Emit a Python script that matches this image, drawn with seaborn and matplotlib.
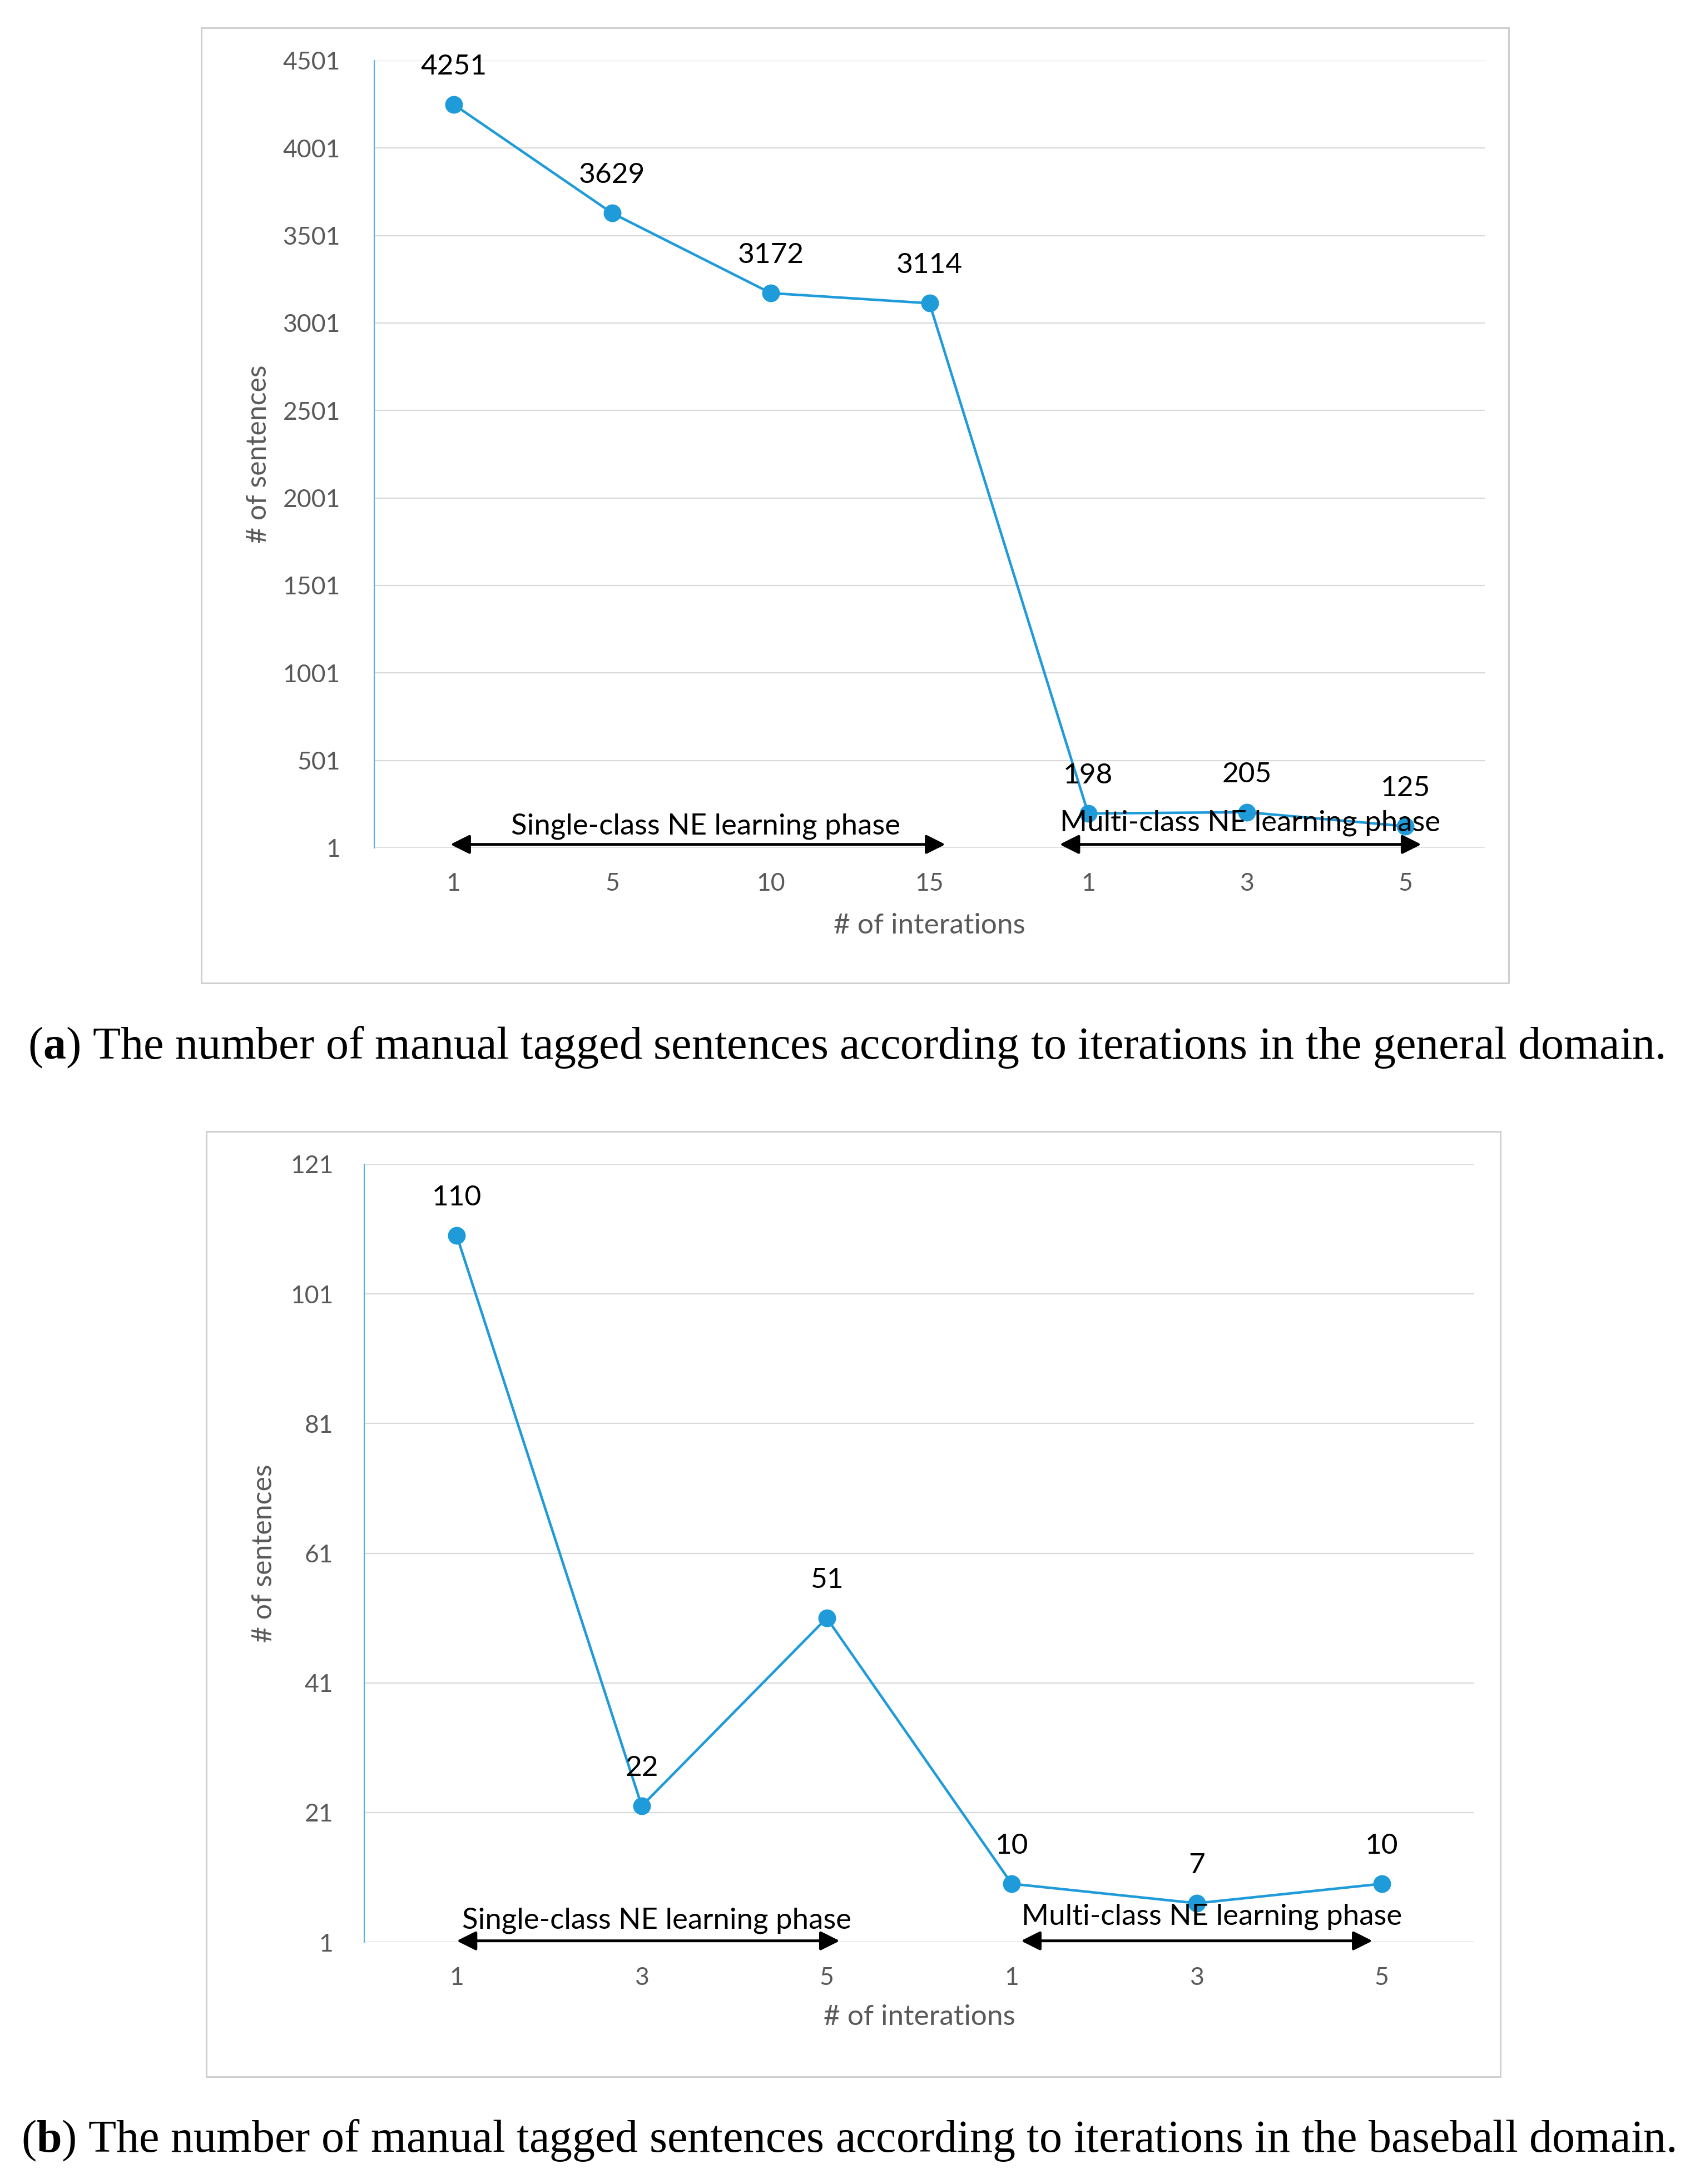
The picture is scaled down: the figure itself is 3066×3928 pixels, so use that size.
import numpy as np
import matplotlib
matplotlib.use("Agg")
import matplotlib.pyplot as plt
import seaborn as sns
from matplotlib.patches import Rectangle

# data
general_labels = ["1", "5", "10", "15", "1", "3", "5"]
general_values = [4251, 3629, 3172, 3114, 198, 205, 125]
general_yticks = [1, 501, 1001, 1501, 2001, 2501, 3001, 3501, 4001, 4501]

baseball_labels = ["1", "3", "5", "1", "3", "5"]
baseball_values = [110, 22, 51, 10, 7, 10]
baseball_yticks = [1, 21, 41, 61, 81, 101, 121]

caption_a = "The number of manual tagged sentences according to iterations in the general domain."
caption_b = "The number of manual tagged sentences according to iterations in the baseball domain."

sns.set_style("white")
plt.rcParams['font.family'] = ['Lato', 'DejaVu Sans']
plt.rcParams['mathtext.fontset'] = 'custom'
plt.rcParams['mathtext.rm'] = 'Liberation Serif'
plt.rcParams['mathtext.bf'] = 'Liberation Serif:bold'

LINE = "#1f9bd9"
GRID = "#d9d9d9"
GRAY = "#595959"
W, H = 3066, 3928

fig = plt.figure(figsize=(W / 100, H / 100), dpi=100)


def frame(x0, y0, x1, y1):
    fig.patches.append(Rectangle((x0 / W, 1 - y1 / H), (x1 - x0) / W, (y1 - y0) / H,
                                 transform=fig.transFigure, fill=False,
                                 edgecolor="#d0d0d0", lw=2.2))


def panel(rect, labels, values, yticks, phases, ytick_pad, ylab_x, xlab_y):
    ax = fig.add_axes(rect)
    pos = np.arange(len(labels))
    sns.lineplot(x=pos, y=values, ax=ax, color=LINE, lw=3.3, marker="o",
                 markersize=23, markeredgewidth=0)
    for p, v in zip(pos, values):
        ax.annotate(str(v), (p, v), xytext=(0, 49), textcoords="offset points",
                    ha="center", va="center", fontsize=37, color="black")
    ax.set_xlim(-0.5, len(labels) - 0.5)
    ax.set_ylim(yticks[0], yticks[-1])
    ax.set_yticks(yticks)
    ax.set_xticks(pos)
    ax.set_xticklabels(labels)
    ax.yaxis.grid(True, color=GRID, lw=1.6)
    ax.set_axisbelow(True)
    for s in ["top", "right", "bottom"]:
        ax.spines[s].set_visible(False)
    ax.spines["left"].set_color("#5aaee6")
    ax.spines["left"].set_linewidth(1.5)
    ax.tick_params(axis="y", length=0, pad=ytick_pad, labelsize=32, labelcolor=GRAY)
    ax.tick_params(axis="x", length=0, pad=32, labelsize=32, labelcolor=GRAY)
    ax.set_ylabel("# of sentences", fontsize=36, color=GRAY)
    ax.set_xlabel("# of interations", fontsize=37, color=GRAY)
    ax.yaxis.set_label_coords(ylab_x, 0.5)
    ax.xaxis.set_label_coords(0.5, xlab_y)
    ax.yaxis.label.set_va("center")
    ax.xaxis.label.set_va("center")
    for text, x0, x1, ya, tx, ty in phases:
        ax.annotate("", xy=(x1, ya), xytext=(x0, ya),
                    arrowprops=dict(arrowstyle="<|-|>", color="black", lw=3.6,
                                    mutation_scale=52, shrinkA=0, shrinkB=0))
        ax.text(tx, ty, text, ha="center", va="center", fontsize=38, color="black")
    return ax


frame(362, 50, 2713, 1768)
panel([673 / W, 1 - 1525 / H, (2670 - 673) / W, (1525 - 109) / H],
      general_labels, general_values, general_yticks,
      [("Single-class NE learning phase", -0.02, 3.1, 21, 1.59, 125),
       ("Multi-class NE learning phase", 3.82, 6.1, 21, 5.02, 143)],
      44, -0.104, -0.099)

frame(371, 2035, 2698, 3735)
panel([655 / W, 1 - 3493 / H, (2651 - 655) / W, (3493 - 2094) / H],
      baseball_labels, baseball_values, baseball_yticks,
      [("Single-class NE learning phase", 0.0, 2.07, 1.2, 1.08, 4.3),
       ("Multi-class NE learning phase", 3.05, 4.95, 1.2, 4.08, 4.9)],
      40, -0.090, -0.0965)

fig.text(50 / W, 1 - 1883 / H, r"($\mathbf{a}$) " + caption_a, ha="left", va="center",
         fontsize=59, family="Liberation Serif", color="black")
fig.text(38 / W, 1 - 3850 / H, r"($\mathbf{b}$) " + caption_b, ha="left", va="center",
         fontsize=59, family="Liberation Serif", color="black")

fig.savefig("out.png", dpi=100, facecolor="white")
